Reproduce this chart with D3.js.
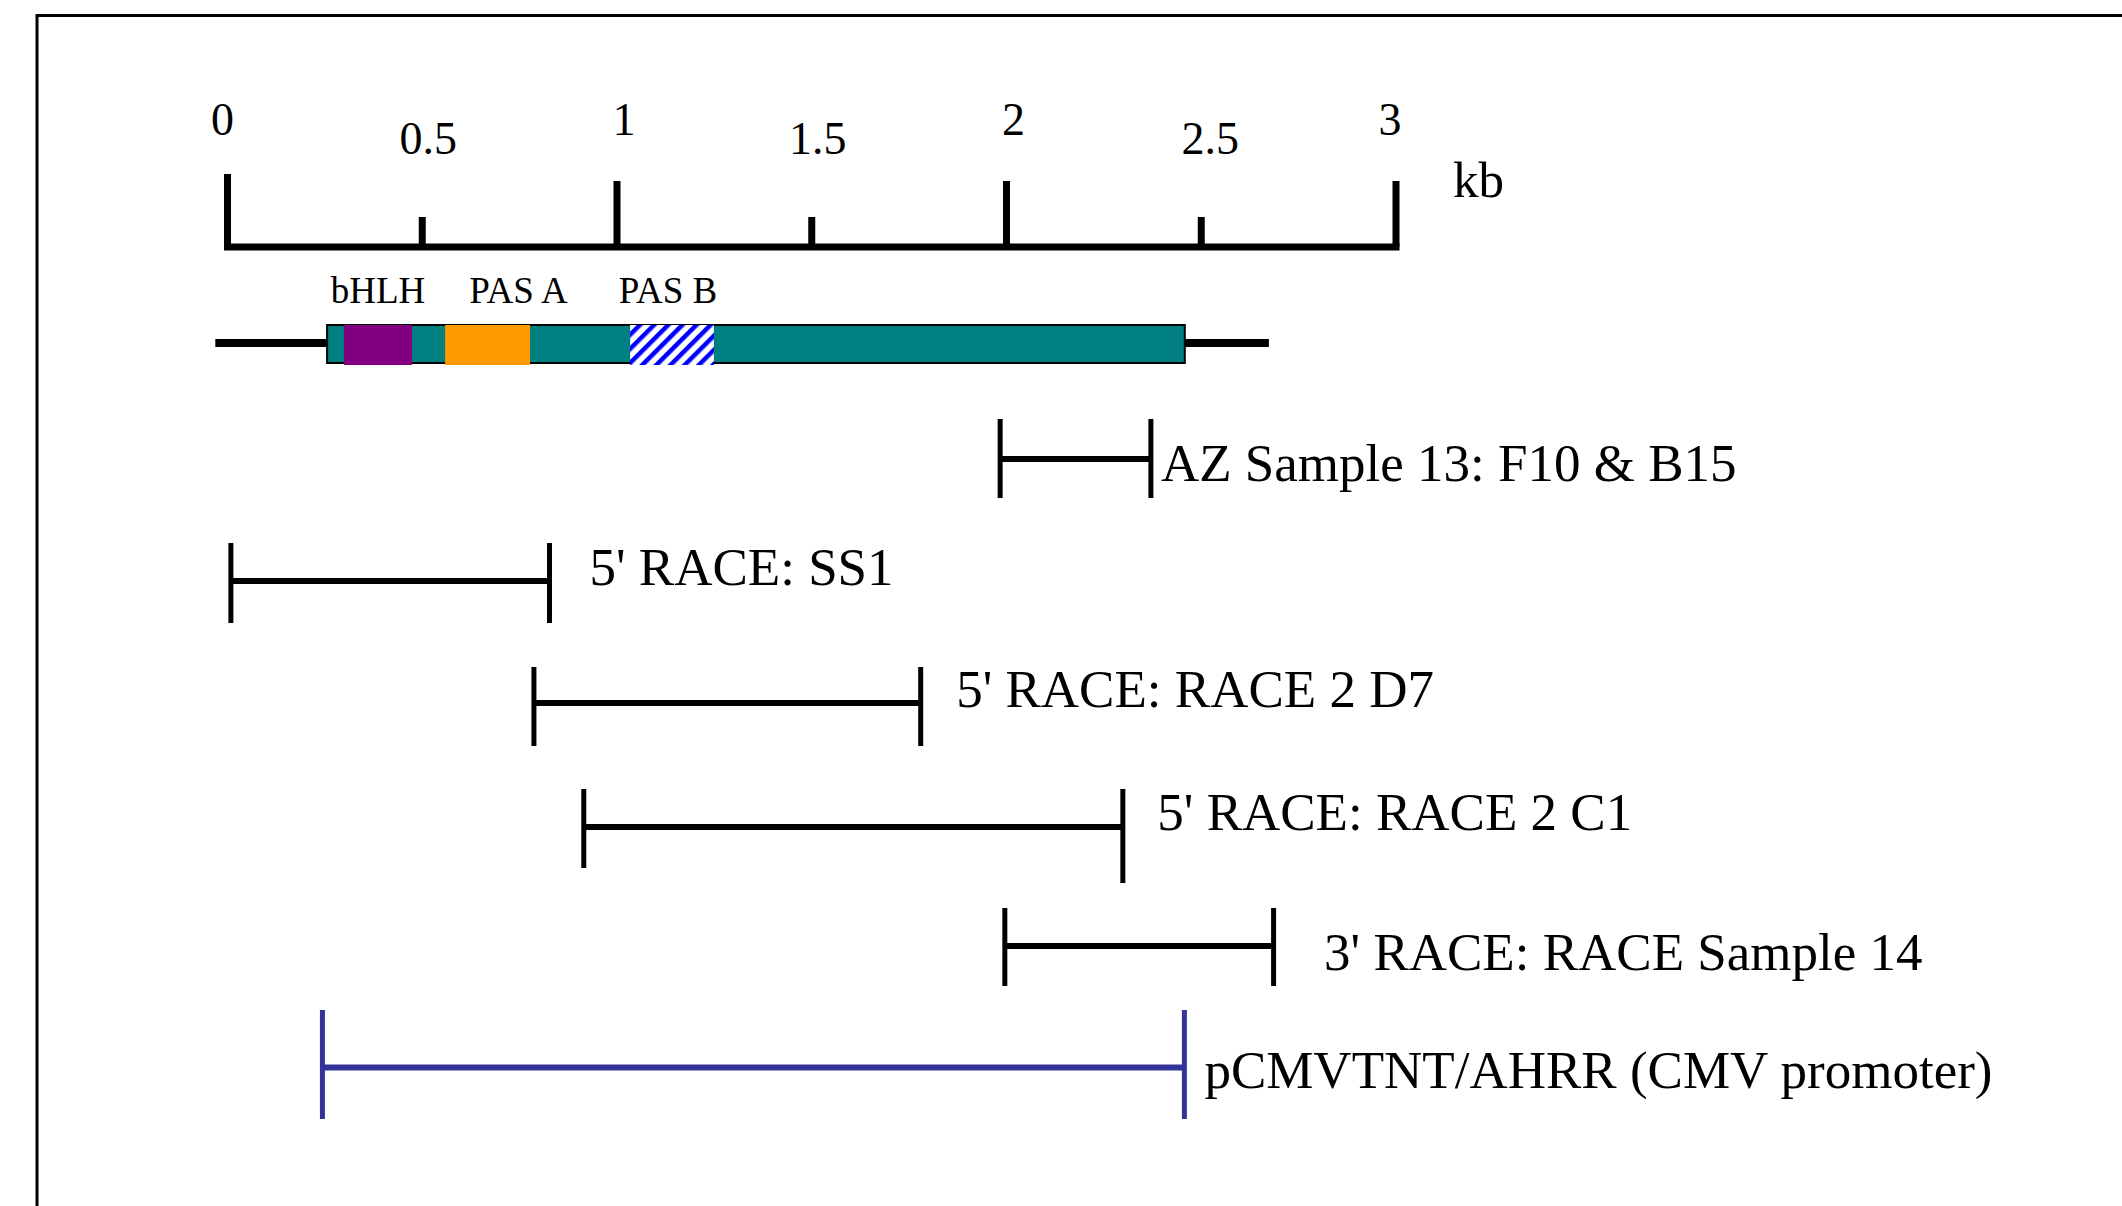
<!DOCTYPE html>
<html>
<head>
<meta charset="utf-8">
<script src="https://cdn.jsdelivr.net/npm/d3@7"></script>
<style>
  html, body { margin: 0; padding: 0; background: #ffffff; }
  svg { display: block; }
</style>
</head>
<body>
<div id="chart"></div>
<script>
// ---------- data (kb) ----------
const kbTicks = [0, 0.5, 1, 1.5, 2, 2.5, 3];
const kbTickLabels = ["0", "0.5", "1", "1.5", "2", "2.5", "3"];
const unitLabel = "kb";

const geneSpan = [-0.03, 2.675];      // flanking line
const cdsSpan = [0.257, 2.459];       // coding box
const domainNames = ["bHLH", "PAS A", "PAS B"];
const domainStart = [0.30, 0.56, 1.035];
const domainEnd = [0.475, 0.778, 1.25];

const cloneNames = [
  "AZ Sample 13: F10 & B15",
  "5' RACE: SS1",
  "5' RACE: RACE 2 D7",
  "5' RACE: RACE 2 C1",
  "3' RACE: RACE Sample 14",
  "pCMVTNT/AHRR (CMV promoter)"
];
const cloneStart = [1.985, 0.010, 0.788, 0.916, 1.997, 0.245];
const cloneEnd = [2.372, 0.828, 1.781, 2.300, 2.687, 2.458];

// ---------- layout / style ----------
const W = 2122, H = 1206;
const tickLabelDx = [-5, 6, 7, 6, 7, 9, -6];
const rowY = [459, 581, 703, 827, 946, 1067.5];
const rowTop = [419, 543, 667, 789, 908, 1010];
const rowBottomL = [498, 623, 746, 868, 986, 1119];
const rowBottomR = [498, 623, 746, 883, 986, 1119];
const textBase = [481, 585, 707, 830, 970, 1088];
const textGap = [10, 40, 35.5, 34.5, 50.5, 20];
const rowColor = ["#000", "#000", "#000", "#000", "#000", "#333399"];
const domainFill = ["#800080", "#FF9900", "url(#hatch)"];
const domainLabelDx = [0, 31, -4];
const serif = "'Liberation Serif', 'Times New Roman', serif";

const svg = d3.select("#chart").append("svg")
  .attr("width", W).attr("height", H)
  .attr("viewBox", `0 0 ${W} ${H}`);

svg.append("rect").attr("width", W).attr("height", H).attr("fill", "#fff");

// hatch pattern
const defs = svg.append("defs");
const pat = defs.append("pattern")
  .attr("id", "hatch").attr("patternUnits", "userSpaceOnUse")
  .attr("width", 10).attr("height", 10)
  .attr("patternTransform", "rotate(45)");
pat.append("rect").attr("width", 10).attr("height", 10).attr("fill", "#fff");
pat.append("rect").attr("width", 4.5).attr("height", 10).attr("fill", "#0000FF");

// frame (cut off at right and bottom)
svg.append("path")
  .attr("d", `M37,${H + 20} V15.5 H${W + 20}`)
  .attr("fill", "none").attr("stroke", "#000").attr("stroke-width", 3);

const x = d3.scaleLinear().domain([0, 3]).range([227, 1395.5]);

// ---------- ruler ----------
const axisG = svg.append("g").attr("transform", "translate(0,246.5)")
  .call(d3.axisTop(x).tickValues(kbTicks)
    .tickFormat((d, i) => kbTickLabels[i]).tickSizeOuter(0));

axisG.select(".domain")
  .attr("stroke", "#000").attr("stroke-width", 7).attr("stroke-linecap", "square");
axisG.selectAll(".tick line")
  .attr("stroke", "#000").attr("stroke-width", 7)
  .attr("y2", d => d === 0 ? -72.5 : (Number.isInteger(d) ? -65.5 : -29.5));
axisG.selectAll(".tick text")
  .attr("fill", "#000")
  .attr("font-family", serif)
  .attr("font-size", 46)
  .attr("dy", 0)
  .attr("dx", (d, i) => tickLabelDx[i])
  .attr("y", d => Number.isInteger(d) ? -111.5 : -92.5);

svg.append("text")
  .attr("x", 1453).attr("y", 197)
  .attr("font-family", serif).attr("font-size", 51).attr("fill", "#000")
  .text(unitLabel);

// ---------- gene model ----------
svg.append("line")
  .attr("x1", x(geneSpan[0])).attr("x2", x(geneSpan[1]))
  .attr("y1", 343).attr("y2", 343)
  .attr("stroke", "#000").attr("stroke-width", 8);

svg.append("rect")
  .attr("x", x(cdsSpan[0])).attr("y", 325)
  .attr("width", x(cdsSpan[1]) - x(cdsSpan[0])).attr("height", 38)
  .attr("fill", "#008080").attr("stroke", "#000").attr("stroke-width", 2);

const domIdx = d3.range(domainNames.length);
svg.selectAll("rect.domain").data(domIdx).enter().append("rect")
  .attr("class", "domain")
  .attr("x", i => x(domainStart[i]))
  .attr("y", 325)
  .attr("width", i => x(domainEnd[i]) - x(domainStart[i]))
  .attr("height", 40)
  .attr("fill", i => domainFill[i]);

svg.selectAll("text.domlabel").data(domIdx).enter().append("text")
  .attr("class", "domlabel")
  .attr("x", i => (x(domainStart[i]) + x(domainEnd[i])) / 2 + domainLabelDx[i])
  .attr("y", 303)
  .attr("text-anchor", "middle")
  .attr("font-family", serif).attr("font-size", 37).attr("fill", "#000")
  .text(i => domainNames[i]);

// ---------- clones ----------
const idx = d3.range(cloneNames.length);
const rows = svg.selectAll("g.clone").data(idx).enter().append("g").attr("class", "clone");

rows.append("line")
  .attr("x1", i => x(cloneStart[i])).attr("x2", i => x(cloneEnd[i]))
  .attr("y1", i => rowY[i]).attr("y2", i => rowY[i])
  .attr("stroke", i => rowColor[i]).attr("stroke-width", 6);

rows.append("line")
  .attr("x1", i => x(cloneStart[i])).attr("x2", i => x(cloneStart[i]))
  .attr("y1", i => rowTop[i]).attr("y2", i => rowBottomL[i])
  .attr("stroke", i => rowColor[i]).attr("stroke-width", 5);

rows.append("line")
  .attr("x1", i => x(cloneEnd[i])).attr("x2", i => x(cloneEnd[i]))
  .attr("y1", i => rowTop[i]).attr("y2", i => rowBottomR[i])
  .attr("stroke", i => rowColor[i]).attr("stroke-width", 5);

rows.append("text")
  .attr("x", i => x(cloneEnd[i]) + textGap[i])
  .attr("y", i => textBase[i])
  .attr("font-family", serif).attr("font-size", 53).attr("fill", "#000")
  .text(i => cloneNames[i]);
</script>
</body>
</html>
